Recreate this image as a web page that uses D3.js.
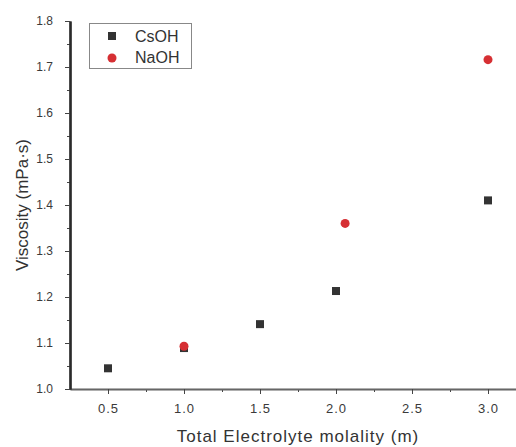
<!DOCTYPE html>
<html><head><meta charset="utf-8">
<script src="https://cdn.jsdelivr.net/npm/d3@7"></script>
<style>body{margin:0;background:#fff;} svg{display:block;}</style>
</head><body>
<svg id="c" width="516" height="447"></svg>
<script>
const seriesNames = ["CsOH", "NaOH"];
const seriesColors = ["#333333", "#d62f33"];
const csohX = [0.5, 1.0, 1.5, 2.0, 3.0];
const csohY = [1.045, 1.089, 1.141, 1.213, 1.41];
const naohX = [1.0, 2.06, 3.0];
const naohY = [1.093, 1.36, 1.716];
const xTicks = [0.5, 1.0, 1.5, 2.0, 2.5, 3.0];
const yTicks = [1.0, 1.1, 1.2, 1.3, 1.4, 1.5, 1.6, 1.7, 1.8];
const xLabel = "Total Electrolyte molality (m)";
const yLabel = "Viscosity (mPa·s)";

(function(){
const svg = d3.select("#c");
const mLeft = 70, mBottom = 389, mTop = 21;
const x = d3.scaleLinear().domain([0.25, 3.25]).range([mLeft, mLeft + 456]);
const y = d3.scaleLinear().domain([1.0, 1.8]).range([mBottom, mTop]);
const font = "Arial, 'Liberation Sans', sans-serif";

const xAxis = d3.axisBottom(x).tickValues(xTicks).tickFormat(d3.format(".1f")).tickSize(5).tickSizeOuter(0);
const xMinor = d3.axisBottom(x).tickValues([0.75,1.25,1.75,2.25,2.75,3.25]).tickFormat("").tickSize(3).tickSizeOuter(0);
const yAxis = d3.axisLeft(y).tickValues(yTicks).tickFormat(d3.format(".1f")).tickSize(5).tickSizeOuter(0);
const yMinor = d3.axisLeft(y).tickValues(d3.range(8).map(i => 1.05 + i*0.1)).tickFormat("").tickSize(3).tickSizeOuter(0);

function style(g, w){
  g.selectAll("text").attr("font-family", font).attr("fill", "#3a3a3a");
  g.selectAll("line").attr("stroke", "#444");
  g.select(".domain").attr("stroke", "#2a2a2a").attr("stroke-width", w);
}
svg.append("g").attr("transform", `translate(0,${mBottom})`).call(xMinor).call(style, 1.5);
const gx = svg.append("g").attr("transform", `translate(0,${mBottom})`).call(xAxis).call(style, 1.5);
gx.selectAll("text").attr("font-size", 13).attr("letter-spacing", "1px").attr("dy", "1.25em");
gx.select(".domain").attr("stroke", "#666");
svg.append("g").attr("transform", `translate(${mLeft},0)`).call(yMinor).call(style, 2.2);
const gy = svg.append("g").attr("transform", `translate(${mLeft},0)`).call(yAxis).call(style, 2.2);
gy.selectAll("text").attr("font-size", 12).attr("dx", "-9px");

svg.append("text").attr("x", 298).attr("y", 442).attr("text-anchor", "middle")
  .attr("font-family", font).attr("font-size", 17).attr("letter-spacing", "1px").attr("fill", "#333").text(xLabel);
svg.append("text").attr("transform", `translate(28,205) rotate(-90)`).attr("text-anchor", "middle")
  .attr("font-family", font).attr("font-size", 17).attr("fill", "#333").text(yLabel);

const s = 8;
svg.append("g").selectAll("rect").data(csohX.map((v,i)=>[v,csohY[i]])).join("rect")
  .attr("x", d => x(d[0]) - s/2).attr("y", d => y(d[1]) - s/2)
  .attr("width", s).attr("height", s).attr("fill", seriesColors[0]);
svg.append("g").selectAll("circle").data(naohX.map((v,i)=>[v,naohY[i]])).join("circle")
  .attr("cx", d => x(d[0])).attr("cy", d => y(d[1])).attr("r", 4.5).attr("fill", seriesColors[1]);

const lg = svg.append("g");
lg.append("rect").attr("x", 89.5).attr("y", 23.5).attr("width", 102).attr("height", 45)
  .attr("fill", "#fff").attr("stroke", "#888").attr("stroke-width", 1);
lg.append("rect").attr("x", 112 - s/2).attr("y", 36 - s/2).attr("width", s).attr("height", s).attr("fill", seriesColors[0]);
lg.append("circle").attr("cx", 112).attr("cy", 58).attr("r", 4.5).attr("fill", seriesColors[1]);
seriesNames.forEach((n,i) => {
  lg.append("text").attr("x", 135).attr("y", 42 + i*21).attr("font-family", font).attr("font-size", 16)
    .attr("fill", "#333").text(n);
});
})();
</script>
</body></html>
